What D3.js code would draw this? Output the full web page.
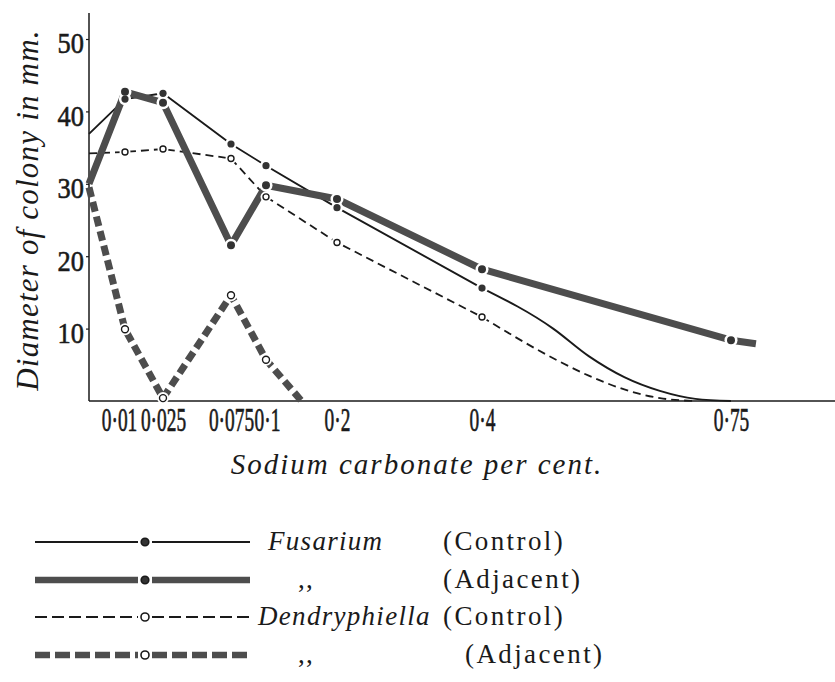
<!DOCTYPE html>
<html><head><meta charset="utf-8">
<script src="https://cdn.jsdelivr.net/npm/d3@7"></script>
<style>
body{margin:0;background:#fff}
svg text{font-family:"Liberation Serif","DejaVu Serif","Times New Roman",serif;}
</style>
</head><body><svg id="c" width="835" height="682"></svg>
<script>
// ---------- data ----------
const xTickValues = [0.01, 0.025, 0.075, 0.1, 0.2, 0.4, 0.75];
const xTickLabels = ["0·01", "0·025", "0·075", "0·1", "0·2", "0·4", "0·75"];
const yTickValues = [10, 20, 30, 40, 50];

// Fusarium (Control)
const fusControlX = [0, 0.01, 0.025, 0.075, 0.1, 0.2, 0.4];
const fusControlY = [36.9, 41.7, 42.5, 35.5, 32.5, 26.7, 15.6];
const fusControlTailX = [0.4, 0.5, 0.55, 0.6, 0.65, 0.7, 0.75];
const fusControlTailY = [15.6, 10.0, 6.2, 3.3, 1.4, 0.3, 0];

// Fusarium (Adjacent)
const fusAdjX = [0, 0.01, 0.025, 0.075, 0.1, 0.2, 0.4, 0.75, 0.785];
const fusAdjY = [30.0, 42.7, 41.2, 21.5, 29.8, 27.9, 18.2, 8.4, 7.9];

// Dendryphiella (Control)
const denControlX = [0, 0.01, 0.025, 0.075, 0.1, 0.2, 0.4];
const denControlY = [34.2, 34.4, 34.8, 33.5, 28.2, 21.9, 11.6];
const denControlTailX = [0.4, 0.51, 0.55, 0.6, 0.65, 0.7];
const denControlTailY = [11.6, 5.4, 3.5, 1.6, 0.4, 0];

// Dendryphiella (Adjacent)
const denAdjX = [0, 0.01, 0.025, 0.075, 0.1, 0.15];
const denAdjY = [29.5, 9.9, 0.4, 14.6, 5.7, 0];

const legendNames = ["Fusarium", ",,", "Dendryphiella", ",,"];
const legendKinds = ["(Control)", "(Adjacent)", "(Control)", "(Adjacent)"];

// ---------- drawing ----------
const svg = d3.select("#c");
svg.append("rect").attr("width", 835).attr("height", 682).attr("fill", "#fff");

const x = d3.scaleLinear()
  .domain([0, 0.01, 0.025, 0.075, 0.1, 0.2, 0.4, 0.75, 1])
  .range([89, 125, 163, 231, 266, 337, 482, 731, 909]);
const y = d3.scaleLinear().domain([0, 50]).range([401, 39]);

const serif = "'Liberation Serif', 'DejaVu Serif', serif";
const ink = "#1a1a1a";
const thickInk = "#4d4d4d";

// axes
const yAxis = d3.axisLeft(y).tickValues(yTickValues).tickSize(3).tickFormat(d => d);
const gy = svg.append("g").attr("transform", "translate(89,0)").call(yAxis);
gy.attr("font-family", null);
gy.select(".domain").remove();
gy.selectAll(".tick line").attr("stroke", ink).attr("stroke-width", 1.2);
gy.selectAll(".tick text").remove();
gy.selectAll(".tick").append("text")
  .attr("transform", "translate(-5,3) scale(0.88,1)")
  .attr("text-anchor", "end").attr("dy", "0.36em")
  .style("font-family", serif).style("font-size", "30px").attr("fill", ink)
  .attr("stroke", ink).attr("stroke-width", 0.6)
  .text(d => d);
svg.append("line").attr("x1", 89).attr("x2", 89).attr("y1", 13).attr("y2", 401)
  .attr("stroke", ink).attr("stroke-width", 1.5);

const xAxis = d3.axisBottom(x).tickValues(xTickValues).tickSize(0);
const gx = svg.append("g").attr("transform", "translate(0,401)").call(xAxis);
gx.attr("font-family", null);
gx.select(".domain").remove();
gx.selectAll(".tick text").remove();
gx.selectAll(".tick").append("text")
  .attr("transform", (d, i) => `translate(${i === 0 ? -6 : (i === 3 ? 1 : 0)},30) scale(0.57,1)`)
  .attr("text-anchor", "middle")
  .style("font-family", serif).style("font-size", "34px").attr("fill", ink)
  .attr("stroke", ink).attr("stroke-width", 0.7)
  .text((d, i) => xTickLabels[i]);
svg.append("line").attr("x1", 89).attr("x2", 835).attr("y1", 401).attr("y2", 401)
  .attr("stroke", ink).attr("stroke-width", 1.6);

// axis titles
svg.append("text")
  .attr("transform", "translate(38,210) rotate(-90)")
  .attr("text-anchor", "middle")
  .style("font-family", serif).style("font-style", "italic").style("font-size", "31px")
  .attr("fill", ink).attr("letter-spacing", 1.2)
  .text("Diameter of colony in mm.");
svg.append("text")
  .attr("x", 417).attr("y", 474)
  .attr("text-anchor", "middle")
  .style("font-family", serif).style("font-style", "italic").style("font-size", "29px")
  .attr("fill", ink).attr("letter-spacing", 2)
  .text("Sodium carbonate per cent.");

// series
const pts = (xs, ys) => xs.map((v, i) => [v, ys[i]]);
const lineLin = d3.line().x(d => x(d[0])).y(d => y(d[1]));
const lineMono = d3.line().x(d => x(d[0])).y(d => y(d[1])).curve(d3.curveMonotoneX);

const series = [
  {main: pts(denControlX, denControlY), tail: pts(denControlTailX, denControlTailY), w: 1.8, dash: "8,5", color: ink, open: true, r: 3},
  {main: pts(fusControlX, fusControlY), tail: pts(fusControlTailX, fusControlTailY), w: 1.9, dash: null, color: ink, open: false, r: 3.6},
  {main: pts(fusAdjX, fusAdjY), tail: null, w: 7, dash: null, color: thickInk, open: false, r: 4},
  {main: pts(denAdjX, denAdjY), tail: null, w: 7, dash: "10,5", color: thickInk, open: true, r: 3.5}
];

const gLines = svg.append("g");
series.forEach(s => {
  gLines.append("path").attr("d", lineLin(s.main)).attr("fill", "none")
    .attr("stroke", s.color).attr("stroke-width", s.w)
    .attr("stroke-dasharray", s.dash).attr("stroke-linejoin", "round");
  if (s.tail) {
    gLines.append("path").attr("d", lineMono(s.tail)).attr("fill", "none")
      .attr("stroke", s.color).attr("stroke-width", s.w)
      .attr("stroke-dasharray", s.dash);
  }
});

const markPts = s => s.main.filter(d => xTickValues.includes(d[0]));
const gHalo = svg.append("g");
series.forEach(s => {
  gHalo.selectAll(null).data(markPts(s)).join("circle")
    .attr("cx", d => x(d[0])).attr("cy", d => y(d[1])).attr("r", s.r + 2.5)
    .attr("fill", "#fff");
});
const gDots = svg.append("g");
series.forEach(s => {
  gDots.selectAll(null).data(markPts(s)).join("circle")
    .attr("cx", d => x(d[0])).attr("cy", d => y(d[1])).attr("r", s.r)
    .attr("fill", s.open ? "#fff" : "#333")
    .attr("stroke", s.open ? ink : "none").attr("stroke-width", 1.4);
});

// legend
const legRowsY = [542, 580, 617, 655];
const legendDash = [null, null, "12,5", "15,5"];
const gLeg = svg.append("g");
const legOrder = [series[1], series[2], series[0], series[3]];
legOrder.forEach((s, i) => {
  const ly = legRowsY[i];
  const lw = s.w === 7 ? 6.5 : 2.2;
  gLeg.append("line").attr("x1", 35).attr("x2", 138).attr("y1", ly).attr("y2", ly)
    .attr("stroke", s.color).attr("stroke-width", lw).attr("stroke-dasharray", legendDash[i]);
  gLeg.append("line").attr("x1", 152).attr("x2", 250).attr("y1", ly).attr("y2", ly)
    .attr("stroke", s.color).attr("stroke-width", lw).attr("stroke-dasharray", legendDash[i]);
  gLeg.append("circle").attr("cx", 145).attr("cy", ly).attr("r", s.open ? 4 : 3.8)
    .attr("fill", s.open ? "#fff" : "#333").attr("stroke", ink).attr("stroke-width", 1.6);
  const nm = legendNames[i];
  gLeg.append("text").attr("x", nm === ",," ? 298 : (i === 0 ? 268 : 258)).attr("y", ly + 8)
    .style("font-family", serif).style("font-style", nm === ",," ? "normal" : "italic")
    .style("font-size", "27px").attr("fill", ink).attr("letter-spacing", 1.3).text(nm);
  gLeg.append("text").attr("x", i === 3 ? 465 : 443).attr("y", ly + 8)
    .style("font-family", serif).style("font-size", "27px").attr("fill", ink)
    .attr("letter-spacing", 2.4).text(legendKinds[i]);
});
</script></body></html>
